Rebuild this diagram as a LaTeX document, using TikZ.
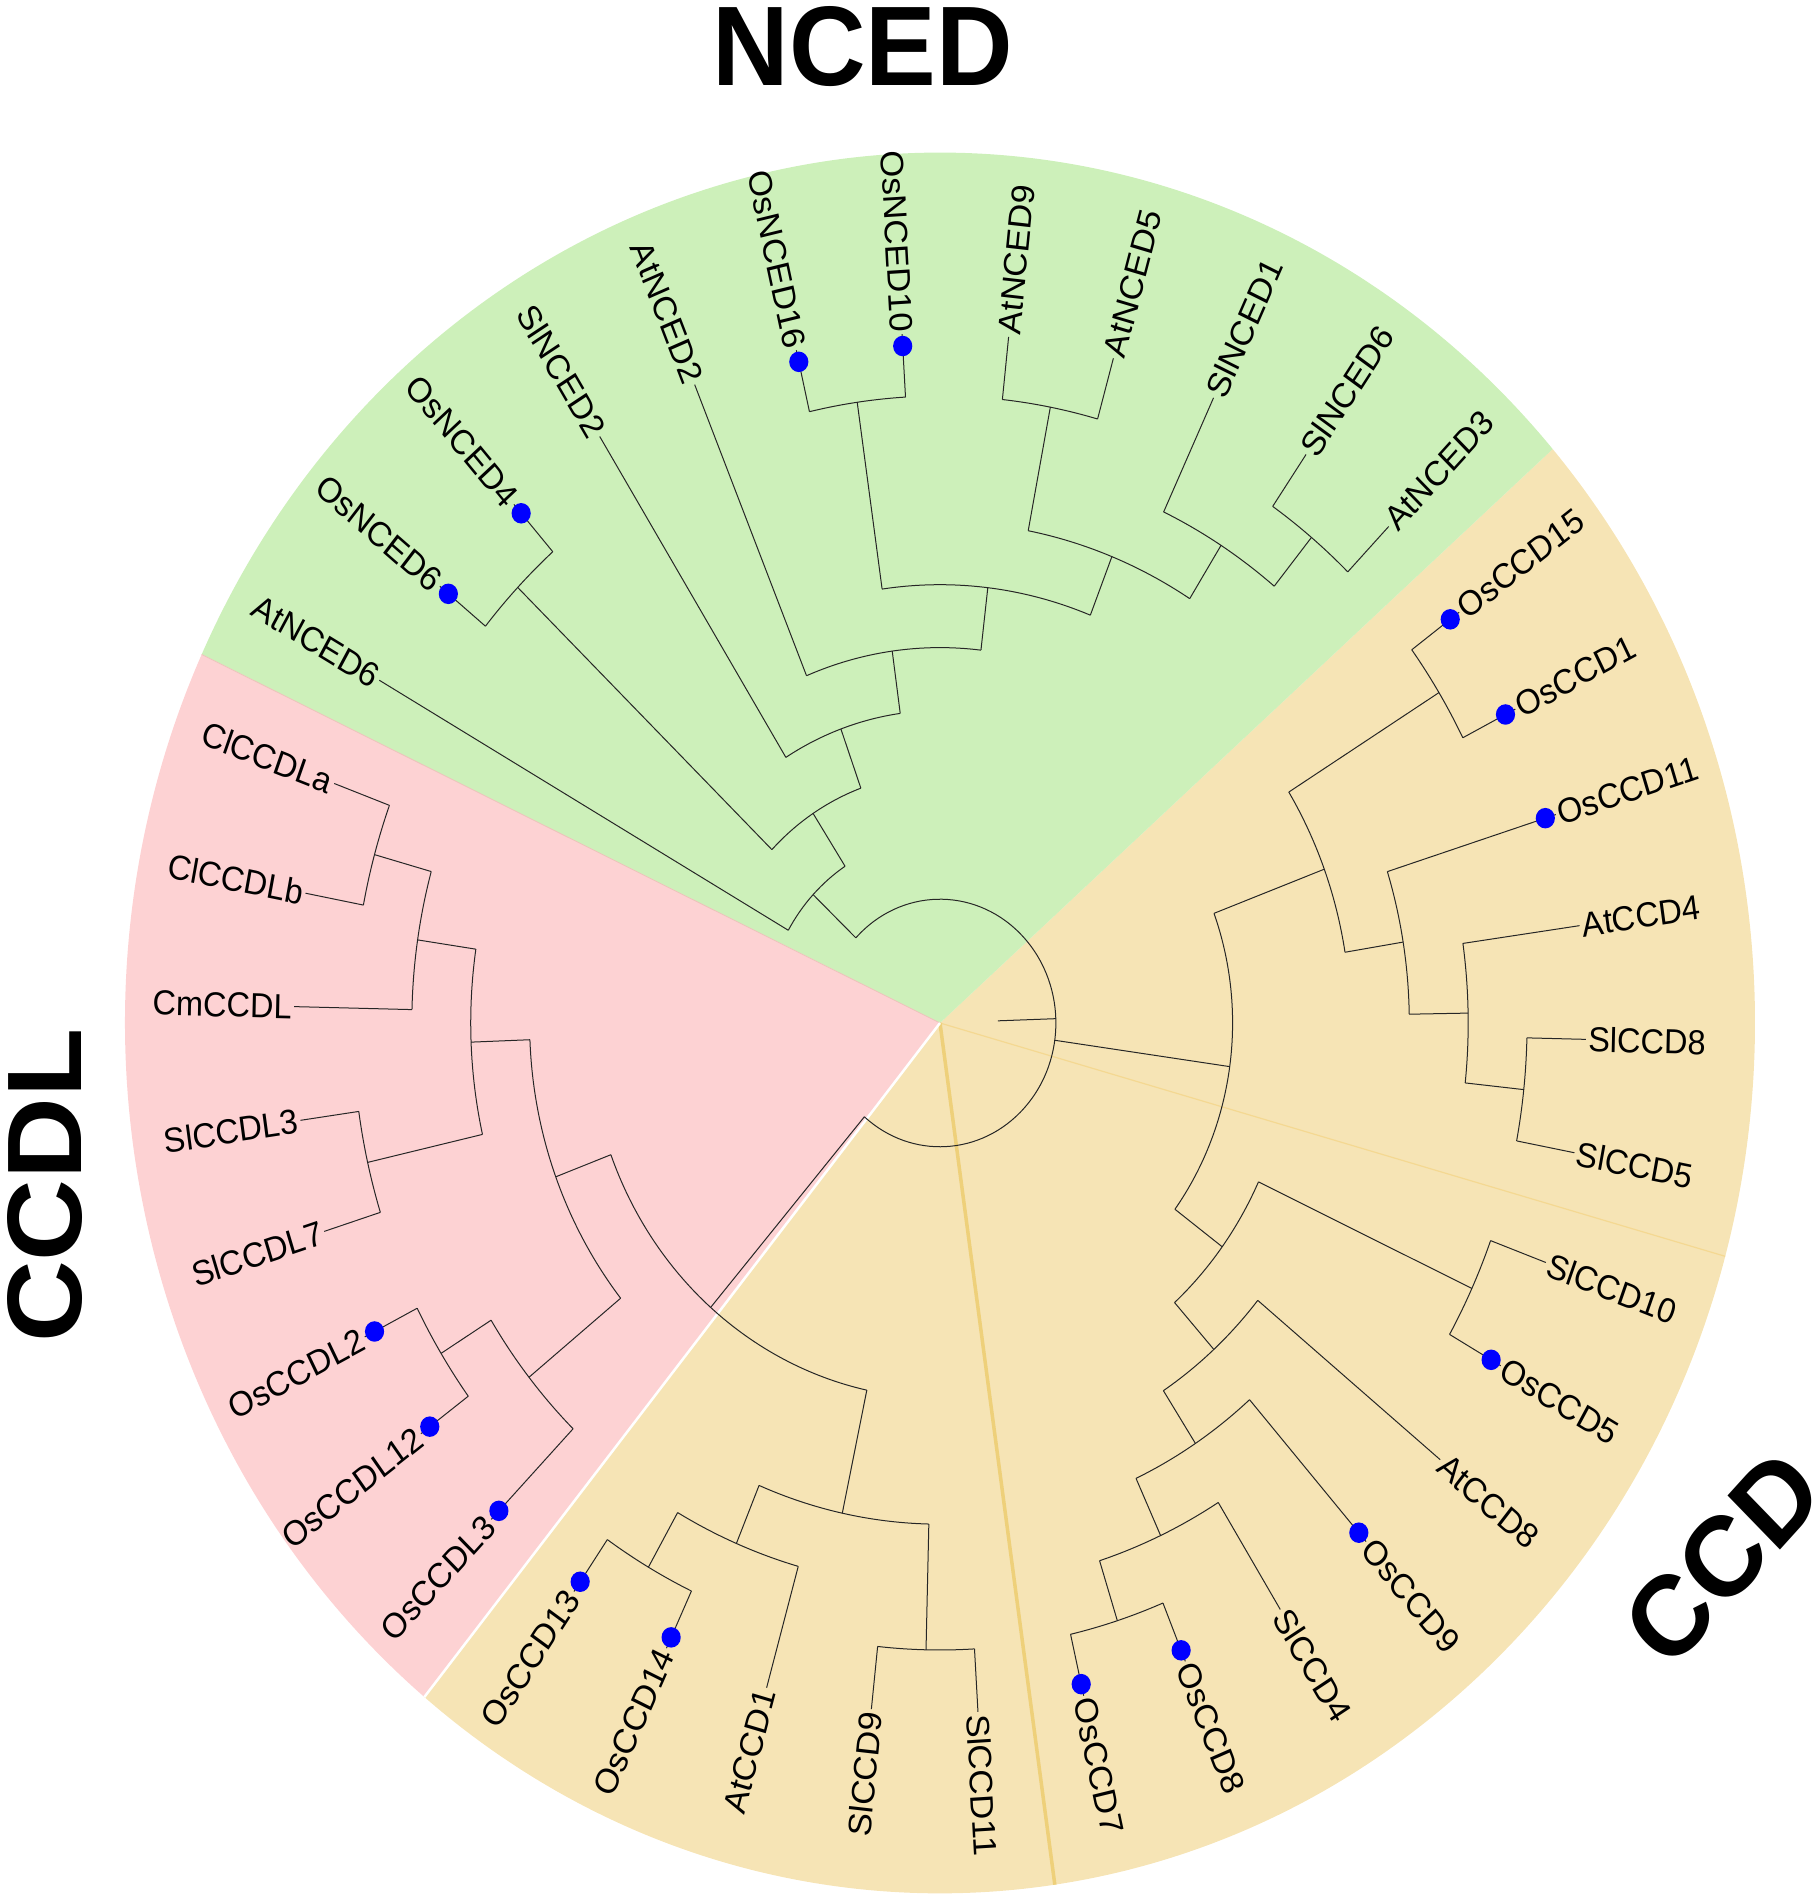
\documentclass[tikz,border=0pt]{standalone}
\usepackage{fontspec}
\setmainfont{Liberation Sans}

\definecolor{ncedgreen}{RGB}{205,240,186}
\definecolor{ccdlpink}{RGB}{253,210,211}
\definecolor{ccdyellow}{RGB}{246,228,181}
\definecolor{seamyellow}{RGB}{238,208,122}
\definecolor{seamlight}{RGB}{244,216,146}
\definecolor{seampink}{RGB}{236,196,186}
\definecolor{dotblue}{RGB}{0,0,255}

\tikzset{every picture/.style={line width=1pt}}
\tikzset{
  branch/.style={line width=1pt, black!85},
  leaflabel/.style={inner sep=0pt, transform shape, font=\fontsize{32.5}{38}\selectfont},
  grouplabel/.style={inner sep=0pt, transform shape, font=\fontsize{106}{120}\selectfont\bfseries},
}

% internal node: name, angle, radius, parent radius, arc start, arc end
\newcommand{\inode}[6]{%
  \coordinate (n#1) at (#2:#3);
  \draw[branch] (#2:#4) -- (n#1);
  \draw[branch] (#5:#3) arc[start angle=#5, end angle=#6, radius=#3];}

\begin{document}
\begin{tikzpicture}[x=1pt,y=1pt]
	\useasboundingbox (0,0) rectangle (1816,1896);

	\begin{scope}[shift={(940,873)}, yscale=1.068]
	%Shape: Sectors
	\fill[ccdyellow] (0,0) -- (41.25:815) arc[start angle=41.25, end angle=-129.25, radius=815] -- cycle;
	\fill[ncedgreen] (0,0) -- (41.25:815) arc[start angle=41.25, end angle=154.95, radius=815] -- cycle;
	\fill[ccdlpink] (0,0) -- (154.95:815) arc[start angle=154.95, end angle=230.75, radius=815] -- cycle;
	\draw[seamlight, line width=1.2pt] (0,0) -- (-15.55:815);
	\draw[seamyellow, line width=3.5pt] (0,0) -- (-81.9:815);
	\draw[seampink, line width=0.8pt] (0,0) -- (154.95:815);
	\draw[white, line width=2.5pt] (0,0) -- (-129.25:815);

	%Shape: Root
	\coordinate (root) at (0,0);
	\draw[branch] (2:58) -- (2:115.9);
	\draw[branch] (136.56:115.9) arc[start angle=136.56, end angle=-130.74, radius=115.9];

	%Shape: NCED clade
	\inode{A}{136.56}{174.8}{115.9}{150.22}{122.90}
	\inode{B}{122.90}{233.7}{174.8}{136.005}{109.80}
	\inode{C}{136.005}{587.1}{233.7}{140.74}{131.27}
	\inode{D}{109.80}{292.6}{233.7}{121.79}{97.815}
	\inode{E}{97.815}{351.5}{292.6}{112.32}{83.31}
	\inode{F}{83.31}{410.4}{351.5}{98.11}{68.51}
	\inode{G}{98.11}{587.1}{410.4}{102.85}{93.37}
	\inode{J}{68.51}{469.3}{410.4}{79.165}{57.85}
	\inode{I}{79.165}{587.1}{469.3}{83.90}{74.43}
	\inode{K}{57.85}{528.2}{469.3}{64.95}{50.745}
	\inode{L}{50.745}{587.1}{528.2}{55.48}{46.01}

	%Shape: CCD clade
	\inode{M}{-8.025}{292.6}{115.9}{20.54}{-36.59}
	\inode{N}{20.54}{410.4}{292.6}{31.795}{9.29}
	\inode{P}{31.795}{587.1}{410.4}{36.53}{27.06}
	\inode{Q}{9.29}{469.3}{410.4}{17.58}{1.005}
	\inode{R}{1.005}{528.2}{469.3}{8.11}{-6.10}
	\inode{S}{-6.10}{587.1}{528.2}{-1.36}{-10.84}
	\inode{O}{-36.59}{351.5}{292.6}{-25.045}{-48.14}
	\inode{V}{-25.045}{587.1}{351.5}{-20.31}{-29.78}
	\inode{U}{-48.14}{410.4}{351.5}{-39.26}{-57.02}
	\inode{W}{-57.02}{469.3}{410.4}{-48.73}{-65.31}
	\inode{X}{-65.31}{528.2}{469.3}{-58.21}{-72.415}
	\inode{Y}{-72.415}{587.1}{528.2}{-67.68}{-77.15}

	%Shape: CCD1 and CCDL clade
	\inode{Z}{-130.74}{351.5}{115.9}{-102.02}{-159.455}
	\inode{CB}{-102.02}{469.3}{351.5}{-91.365}{-112.68}
	\inode{CDa}{-91.365}{587.1}{469.3}{-86.63}{-96.10}
	\inode{CC}{-112.68}{528.2}{469.3}{-105.57}{-119.785}
	\inode{CDb}{-119.785}{587.1}{528.2}{-115.05}{-124.52}
	\inode{ZA}{200.545}{410.4}{351.5}{182.19}{218.90}
	\inode{CLc}{182.19}{469.3}{410.4}{171.53}{192.845}
	\inode{CLb}{171.53}{528.2}{469.3}{164.425}{178.64}
	\inode{CLa}{164.425}{587.1}{528.2}{159.69}{169.16}
	\inode{CLd}{192.845}{587.1}{469.3}{188.11}{197.58}
	\inode{CLf}{218.90}{528.2}{410.4}{211.795}{226.00}
	\inode{CLg}{211.795}{587.1}{528.2}{207.06}{216.53}

	% Text Node: leaves
	\foreach \a/\n/\d/\p in {
		83.90/AtNCED9/0/587.1, 74.43/AtNCED5/0/587.1, 64.95/SlNCED1/0/528.2,
		55.48/SlNCED6/0/587.1, 46.01/AtNCED3/0/587.1, 36.53/OsCCD15/1/587.1,
		27.06/OsCCD1/1/587.1, 17.58/OsCCD11/1/469.3, 8.11/AtCCD4/0/528.2,
		-1.36/SlCCD8/0/587.1, -10.84/SlCCD5/0/587.1, -20.31/SlCCD10/0/587.1,
		-29.78/OsCCD5/1/587.1, -39.26/AtCCD8/0/410.4, -48.73/OsCCD9/1/469.3,
		-58.21/SlCCD4/0/528.2, -67.68/OsCCD8/1/587.1, -77.15/OsCCD7/1/587.1,
		-86.63/SlCCD11/0/587.1, -96.10/SlCCD9/0/587.1, -105.57/AtCCD1/0/528.2,
		-115.05/OsCCD14/1/587.1, -124.52/OsCCD13/1/587.1, 226.00/OsCCDL3/1/528.2,
		216.53/OsCCDL12/1/587.1, 207.06/OsCCDL2/1/587.1, 197.58/SlCCDL7/0/587.1,
		188.11/SlCCDL3/0/587.1, 178.64/CmCCDL/0/528.2, 169.16/ClCCDLb/0/587.1,
		159.69/ClCCDLa/0/587.1, 150.22/AtNCED6/0/174.8, 140.74/OsNCED6/1/587.1,
		131.27/OsNCED4/1/587.1, 121.79/SlNCED2/0/292.6, 112.32/AtNCED2/0/351.5,
		102.85/OsNCED16/1/587.1, 93.37/OsNCED10/1/587.1}{
		\coordinate (l\n) at (\a:646);
		\draw[branch] (\a:\p) -- (l\n);
		\ifnum\d=1 \fill[dotblue] (\a:635) circle[radius=9.6]; \fi
		\pgfmathsetmacro\rot{cos(\a)<0 ? \a+180 : \a}
		\pgfmathtruncatemacro\side{cos(\a)<0 ? 1 : 0}
		\ifnum\side=1
			\node[leaflabel, anchor=east, rotate=\rot] (t\n) at (\a:648) {\n};
		\else
			\node[leaflabel, anchor=west, rotate=\rot] (t\n) at (\a:648) {\n};
		\fi
	}

	% Text Node: groups
	\node[grouplabel] (tNCED) at (-77,913.9) {NCED};
	\node[grouplabel, rotate=90] (tCCDL) at (-895,-152.2) {CCDL};
	\node[grouplabel, rotate=46] (tCCD) at (783,-500.9) {CCD};
	\end{scope}

\end{tikzpicture}
\end{document}
